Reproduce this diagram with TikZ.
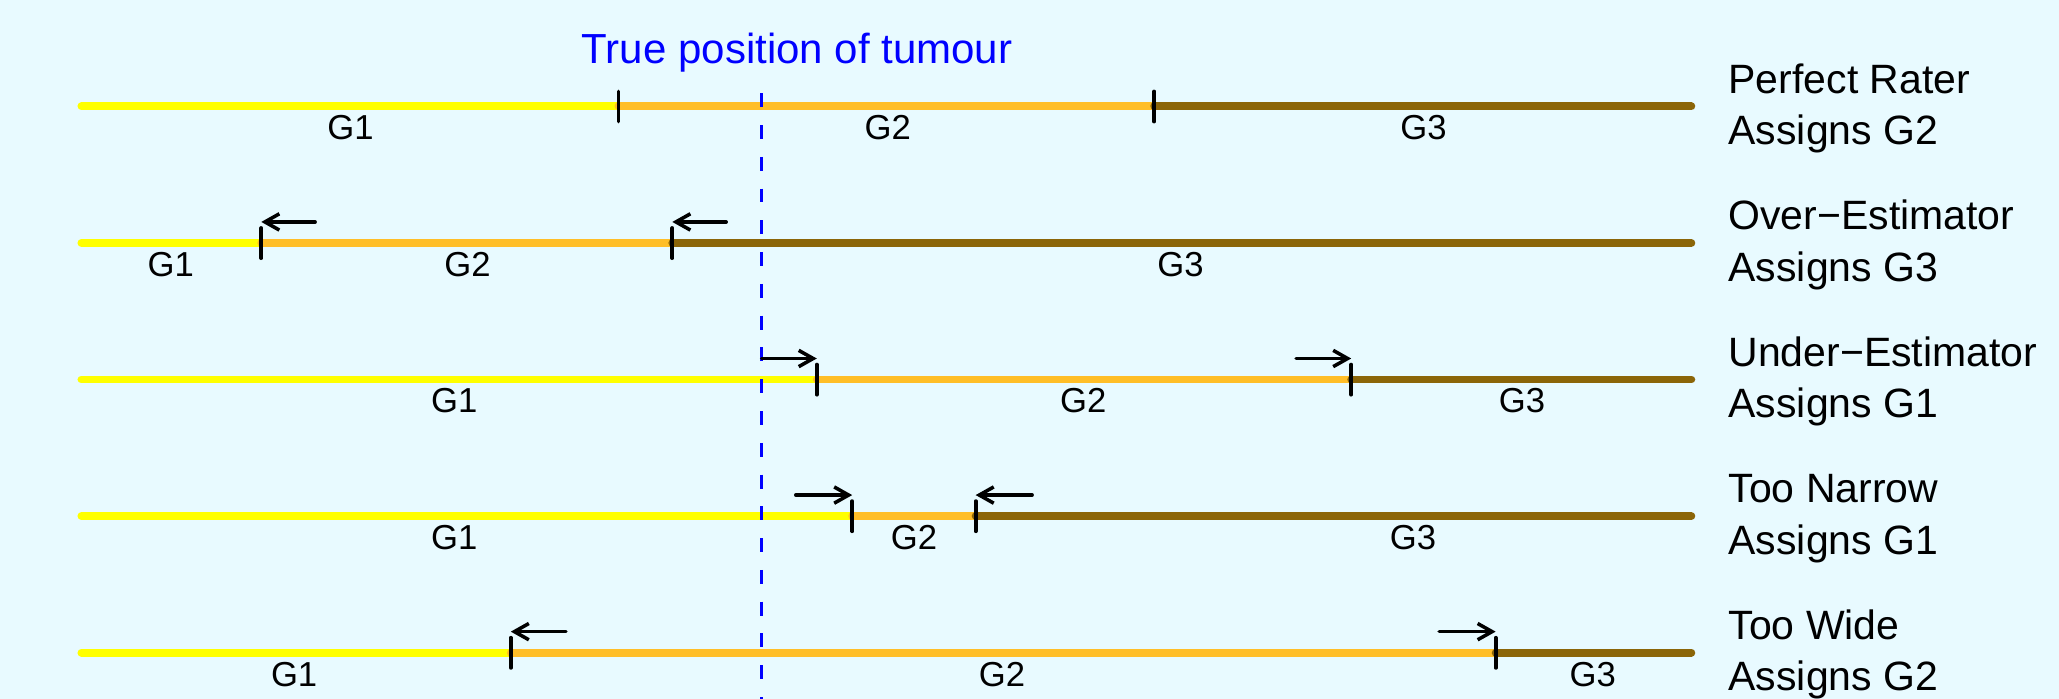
\documentclass[tikz,border=0pt]{standalone}
\usepackage{fontspec}
\setmainfont{Liberation Sans}
\usetikzlibrary{arrows.meta}
\definecolor{bgc}{RGB}{232,250,255}
\definecolor{gy}{RGB}{255,255,0}
\definecolor{go}{RGB}{255,190,40}
\definecolor{gb}{RGB}{139,101,8}
\definecolor{tblue}{RGB}{0,0,255}
\newcommand{\mkrow}[9]{%
  % #1 y, #2 tick1, #3 tick2, #4 G1 x, #5 G2 x, #6 G3 x, #7 name, #8 line1, #9 line2
  \coordinate (#7s) at (62,#1);
  \coordinate (#7a) at (#2,#1);
  \coordinate (#7b) at (#3,#1);
  \coordinate (#7e) at (1288,#1);
  \draw[seg,gy] (#7s) -- (#7a);
  \draw[seg,go] (#7a) -- (#7b);
  \draw[seg,gb] (#7b) -- (#7e);
  \draw[tickmark] ([yshift=5.7pt]#7a) -- ([yshift=-5.8pt]#7a);
  \draw[tickmark] ([yshift=5.7pt]#7b) -- ([yshift=-5.8pt]#7b);
  \node[glab] (#7g1) at (#4,#1+25.5) {G1};
  \node[glab] (#7g2) at (#5,#1+25.5) {G2};
  \node[glab] (#7g3) at (#6,#1+25.5) {G3};
  \node[rlab] (#7l1) at (1316,#1-10) {#8};
  \node[rlab] (#7l2) at (1316,#1+29) {#9};
}
\begin{document}
\begin{tikzpicture}[x=0.5pt,y=-0.5pt,
  seg/.style={line width=3pt, line cap=round},
  tickmark/.style={line width=1.4pt, black, line cap=round},
  mv/.style={line width=1.35pt, black, line cap=round, -{Straight Barb[length=5.5pt,width=6.2pt,line width=1.35pt]}},
  glab/.style={font=\fontsize{13.2}{15}\selectfont, anchor=base, inner sep=0pt},
  rlab/.style={font=\fontsize{15.6}{18}\selectfont, anchor=base west, inner sep=0pt},
  ttl/.style={font=\fontsize{16}{19}\selectfont, text=tblue, anchor=base, inner sep=0pt}
]
\fill[bgc] (0,0) rectangle (1568,532);
\useasboundingbox (0,0) rectangle (1568,532);

\mkrow{81}{471}{879}{267}{676}{1084}{r1}{Perfect Rater}{Assigns G2}
\mkrow{185}{199}{512}{130}{356}{899}{r2}{Over−Estimator}{Assigns G3}
\mkrow{289}{622}{1029}{346}{825}{1159}{r3}{Under−Estimator}{Assigns G1}
\mkrow{393}{649}{743}{346}{696}{1076}{r4}{Too Narrow}{Assigns G1}
\mkrow{497}{389}{1139}{224}{763}{1213}{r5}{Too Wide}{Assigns G2}

% true position
\coordinate (tp1) at (580,71);
\coordinate (tp2) at (580,532);
\draw[tblue, line width=1.3pt, dash pattern=on 5.3pt off 6.8pt] (tp1) -- (tp2);
\node[ttl] (title) at (607,48) {True position of tumour};

% shift arrows
\coordinate (a2s) at (240,169); \coordinate (a2t) at (199,169);
\coordinate (b2s) at (553,169); \coordinate (b2t) at (512,169);
\coordinate (a3s) at (580,273); \coordinate (a3t) at (622,273);
\coordinate (b3s) at (987,273); \coordinate (b3t) at (1029,273);
\coordinate (a4s) at (606,377); \coordinate (a4t) at (649,377);
\coordinate (b4s) at (786,377); \coordinate (b4t) at (743,377);
\coordinate (a5s) at (431,481); \coordinate (a5t) at (389,481);
\coordinate (b5s) at (1096,481); \coordinate (b5t) at (1139,481);
\foreach \r in {2,3,4,5}{
  \draw[mv] (a\r s) -- (a\r t);
  \draw[mv] (b\r s) -- (b\r t);
}
\end{tikzpicture}
\end{document}
